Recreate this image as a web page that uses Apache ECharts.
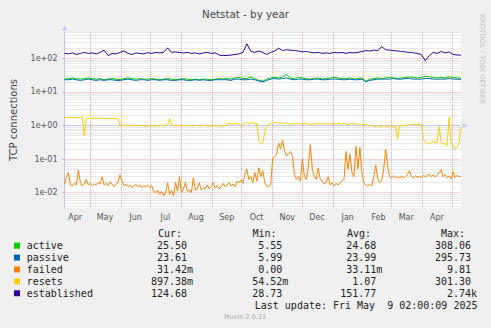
<!DOCTYPE html>
<html><head><meta charset="utf-8">
<script src="https://cdn.jsdelivr.net/npm/echarts@6/dist/echarts.min.js"></script>
<style>html,body{margin:0;padding:0;background:#f0f0f0}#c{width:491px;height:328px}</style>
</head><body><div id="c"></div>
<script>
// ---- text ----
const chartTitle = 'Netstat - by year';
const yAxisTitle = 'TCP connections';
const monthLabels = ['Apr','May','Jun','Jul','Aug','Sep','Oct','Nov','Dec','Jan','Feb','Mar','Apr'];
const yTickExponents = [-2, -1, 0, 1, 2];
const seriesNames = ['active','passive','failed','resets','established'];
const seriesColors = ['#00CC00','#0066B3','#FF8000','#FFCC00','#330099'];
const statHeaders = ['Cur:','Min:','Avg:','Max:'];
const statCur = ['25.50','23.61','31.42m','897.38m','124.68'];
const statMin = ['5.55','5.99','0.00','54.52m','28.73'];
const statAvg = ['24.68','23.99','33.11m','1.07','151.77'];
const statMax = ['308.06','295.73','9.81','301.30','2.74k'];
const lastUpdate = 'Last update: Fri May\u00a0 9 02:00:09 2025';
const versionText = 'Munin 2.0.33';
const watermark = 'RRDTOOL / TOBI OETIKER';

// ---- time frame (400 days shown) ----
const startMs = Date.UTC(2024, 3, 5, 6, 0);
const spanDays = 400;

// ---- values: 4-day samples ----
const active = [24,25,26,25,24,25,26,25,24,25, 23,24,25,24,23,25,26,25,24,25, 24,24,25,24,23,24,25,24,23,24,
  25,24,23,24,23,24,24,23,24,25, 24,25,24,26,27,25,25,28,25,22, 21,24,26,27,26,28,33,26,25,27,
  26,25,24,25,26,24,25,26,27,26, 25,25,26,24,25,26,21,24,25,26, 25,26,27,26,25,26,27,28,27,26,
  27,29,28,27,26,27,26,28,27,26, 25.5];
const passive = [23,23,24,23,22,23,24,23,22,23, 22,23,23,22,22,23,24,23,22,23, 23,22,23,23,22,23,23,22,22,23,
  23,22,22,23,22,23,22,22,23,23, 23,23,22,24,24,23,23,24,23,21, 20,22,24,25,24,25,26,24,23,24,
  24,23,23,24,24,23,23,24,24,24, 23,23,24,23,23,24,20,22,23,24, 24,24,24,25,24,24,25,25,24,24,
  24,25,25,24,24,24,24,25,24,24, 23.6];
const established = [140,135,145,130,140,150,140,145,135,150, 175,120,140,135,150,165,140,130,145,140,
  135,148,140,150,145,150,205,150,155,150, 145,150,140,145,135,145,150,140,145,125,
  120,122,125,130,135,150,270,160,150,165, 150,130,150,165,200,170,180,175,170,165,
  155,160,150,145,150,140,145,140,150,145, 150,140,150,145,150,160,170,165,175,170,
  220,180,175,170,165,160,155,150,145,140, 130,85,120,150,140,160,145,155,130,125, 125];
// ---- values: 2-day samples ----
const resets = [1.75,1.7,1.72,1.75,1.7,1.68,1.72,1.7,1.75,1.8,
  0.5,1.6,1.62,1.65,1.63,1.65,1.64,1.66,1.65,1.64,
  1.65,1.63,1.62,1.6,1.62,1.6,1.6,1.58,1.0,1.02,
  1.0,0.98,1.03,1.0,0.97,1.0,1.02,0.98,1.0,1.0,
  0.97,0.95,0.97,1.0,1.02,0.98,0.97,1.0,1.03,1.0,
  0.98,1.0,1.02,1.6,1.05,1.0,0.98,1.0,1.02,0.97,
  1.0,0.98,1.0,1.03,0.98,0.97,1.0,1.02,0.98,0.97,
  1.0,1.0,0.97,0.95,1.0,0.98,1.0,0.97,1.0,0.95,
  0.98,1.0,1.12,1.15,1.12,1.1,1.15,1.13,1.1,0.95,
  1.12,1.18,1.2,1.15,1.18,1.2,1.15,1.15,0.35,0.28,
  0.3,0.6,0.95,1.1,1.15,1.2,1.15,1.3,1.15,1.2,
  1.15,1.12,1.18,1.15,1.05,1.15,1.12,1.15,1.15,1.12,
  1.1,1.15,1.12,1.1,1.0,1.12,1.1,1.15,1.12,1.1,
  1.12,1.15,1.1,1.12,1.1,1.15,1.12,1.1,1.15,1.12,
  1.1,1.15,1.1,1.05,1.12,1.15,1.1,1.12,1.15,1.0,
  1.12,1.05,1.1,0.95,1.0,1.05,0.92,0.95,1.0,0.9,
  0.95,1.0,0.95,0.92,0.98,0.95,0.9,0.95,0.4,1.0,
  0.98,1.02,1.0,1.05,1.02,1.05,1.1,1.08,1.05,1.1,
  1.05,0.4,0.32,0.3,0.28,0.3,0.35,0.3,0.32,0.95,
  0.3,0.28,0.3,0.25,1.75,0.3,0.25,0.2,0.22,0.3,
  0.9];
const failed = [0.018,0.03,0.04,0.017,0.016,0.019,0.017,0.047,0.02,0.016,
  0.018,0.025,0.017,0.019,0.016,0.018,0.017,0.02,0.018,0.03,
  0.017,0.019,0.016,0.021,0.018,0.015,0.018,0.02,0.034,0.022,
  0.016,0.018,0.015,0.017,0.014,0.016,0.018,0.015,0.017,0.014,
  0.016,0.015,0.017,0.014,0.016,0.011,0.01,0.012,0.009,0.011,
  0.008,0.01,0.02,0.009,0.012,0.008,0.02,0.011,0.03,0.01,
  0.013,0.02,0.011,0.012,0.01,0.028,0.012,0.013,0.02,0.012,
  0.014,0.013,0.017,0.013,0.015,0.02,0.014,0.016,0.013,0.015,
  0.019,0.015,0.017,0.02,0.016,0.018,0.015,0.022,0.02,0.024,
  0.019,0.035,0.05,0.025,0.03,0.02,0.04,0.022,0.055,0.03,
  0.045,0.02,0.016,0.015,0.017,0.1,0.12,0.14,0.3,0.2,
  0.36,0.18,0.12,0.15,0.17,0.12,0.035,0.025,0.03,0.022,
  0.1,0.03,0.025,0.06,0.27,0.05,0.03,0.025,0.055,0.025,
  0.022,0.018,0.02,0.03,0.017,0.02,0.016,0.019,0.017,0.02,
  0.022,0.025,0.17,0.05,0.14,0.04,0.03,0.24,0.05,0.22,
  0.04,0.02,0.017,0.016,0.018,0.016,0.03,0.065,0.025,0.02,
  0.023,0.05,0.2,0.06,0.03,0.028,0.032,0.028,0.03,0.027,
  0.031,0.028,0.03,0.035,0.045,0.03,0.028,0.032,0.029,0.031,
  0.028,0.033,0.03,0.032,0.036,0.03,0.034,0.029,0.033,0.04,
  0.047,0.03,0.035,0.028,0.032,0.026,0.042,0.028,0.033,0.03,
  0.031];

// ---- derived helpers ----
const DAY = 86400000;
const dayOf = (y, m, d) => (Date.UTC(y, m, d) - startMs) / DAY;
const monthStarts = [], labelDays = [];
for (let k = 0; k < 13; k++) {
  const y = 2024 + Math.floor((3 + k) / 12), m = (3 + k) % 12;
  labelDays.push(dayOf(y, m, 16));
  const y2 = 2024 + Math.floor((4 + k) / 12), m2 = (4 + k) % 12;
  monthStarts.push(dayOf(y2, m2, 1));
}
const yMin = -2.455, yMax = 2.783;
const majorVals = yTickExponents.slice();
const minorVals = [];
for (let n = -3; n <= 2; n++) for (let k = 2; k <= 9; k++) {
  const v = n + Math.log10(k);
  if (v > yMin && v < yMax) minorVals.push(v);
}
const toPts = (arr, step) => arr.map((v, i) => [i * step, Math.log10(v)]);
const seriesData = {active: toPts(active, 4), passive: toPts(passive, 4), failed: toPts(failed, 2),
  resets: toPts(resets, 2), established: toPts(established, 4)};
const expLabel = v => { const n = Math.round(v); return '1e' + (n < 0 ? '-' : '+') + String(Math.abs(n)).padStart(2, '0'); };
const splitUnit = s => { const m = s.match(/^([\d.]+)([a-zA-Z]?)$/); return [m[1], m[2] || '']; };

const MONO = 'DejaVu Sans Mono';
const SANS = 'DejaVu Sans';
const FONT_MONO = '10px "DejaVu Sans Mono"';
const pink = '#f2a4a4';
const axisBlue = '#c4c4f2';
const textCol = '#222';

// legend statistics table
const rowY0 = 245.7, rowStep = 11.9;
const colRight = [187, 282.3, 376.3, 471];
const headerX = [158, 252.5, 347, 441];
const graphics = [];
statHeaders.forEach((h, c) => graphics.push({type: 'text', x: headerX[c], y: 233,
  style: {text: h, font: FONT_MONO, fill: textCol, textVerticalAlign: 'middle', verticalAlign: 'middle'}}));
[statCur, statMin, statAvg, statMax].forEach((col, c) => {
  col.forEach((s, r) => {
    const [num, suf] = splitUnit(s);
    const y = rowY0 + r * rowStep;
    graphics.push({type: 'text', x: colRight[c], y: y, style: {text: num, font: FONT_MONO, fill: textCol,
      textAlign: 'right', align: 'right', textVerticalAlign: 'middle', verticalAlign: 'middle'}});
    if (suf) graphics.push({type: 'text', x: colRight[c], y: y, style: {text: suf, font: FONT_MONO, fill: textCol,
      textAlign: 'left', align: 'left', textVerticalAlign: 'middle', verticalAlign: 'middle'}});
  });
});
graphics.push(
  {type: 'text', x: 477.5, y: 305.7, style: {text: lastUpdate, font: FONT_MONO, fill: textCol, textAlign: 'right', align: 'right', textVerticalAlign: 'middle', verticalAlign: 'middle'}},
  {type: 'text', x: 245, y: 316.5, style: {text: versionText, font: '6.4px "DejaVu Sans"', fill: '#aaaaaa', textAlign: 'center', align: 'center', textVerticalAlign: 'middle', verticalAlign: 'middle'}},
  {type: 'text', x: 482, y: 59, rotation: -Math.PI / 2, style: {text: watermark, font: '7px "DejaVu Sans"', fill: '#c4c4c4', textAlign: 'center', align: 'center', textVerticalAlign: 'middle', verticalAlign: 'middle'}}
);

const chart = echarts.init(document.getElementById('c'), null, {renderer: 'svg'});
chart.setOption({
  animation: false,
  backgroundColor: '#f0f0f0',
  title: {text: chartTitle, left: 'center', top: 8, padding: 0,
    textStyle: {fontFamily: SANS, fontSize: 10.3, fontWeight: 'normal', color: '#444', lineHeight: 12}},
  grid: {left: 61, right: 30, top: 32, bottom: 120, show: true, backgroundColor: '#ffffff', borderWidth: 0},
  legend: {
    orient: 'vertical', left: 14, top: rowY0 - 6, padding: 0, itemGap: 0, itemWidth: 6, itemHeight: 6, icon: 'rect',
    selectedMode: false, data: seriesNames,
    textStyle: {fontFamily: MONO, fontSize: 10, color: textCol, lineHeight: rowStep, padding: [0, 0, 0, 1.7]}
  },
  xAxis: {
    type: 'value', min: 0, max: spanDays,
    axisLine: {show: true, lineStyle: {color: axisBlue, width: 1}, symbol: ['none', 'triangle'], symbolSize: [5, 5], symbolOffset: [0, 4]},
    axisTick: {show: true, customValues: monthStarts, length: 3, lineStyle: {color: pink, type: [1, 1]}},
    splitLine: {show: true, lineStyle: {color: pink, type: [1, 1], width: 1}},
    axisLabel: {customValues: labelDays, margin: 5, color: '#555', fontSize: 8, fontFamily: SANS,
      formatter: function (v) {
        let best = 0, bd = 1e9;
        labelDays.forEach((d, i) => { const dd = Math.abs(d - v); if (dd < bd) { bd = dd; best = i; } });
        return monthLabels[best];
      }}
  },
  yAxis: [
    {type: 'value', min: yMin, max: yMax, position: 'left',
      axisLine: {show: false}, axisLabel: {show: false},
      axisTick: {show: false, customValues: minorVals},
      splitLine: {show: true, lineStyle: {color: '#d2d2d2', type: [1, 1], width: 1}}},
    {type: 'value', min: yMin, max: yMax, position: 'left', offset: 0,
      name: yAxisTitle, nameLocation: 'middle', nameGap: 46.5,
      nameTextStyle: {fontFamily: SANS, fontSize: 10, color: '#444'},
      axisLine: {show: true, lineStyle: {color: axisBlue, width: 1}, symbol: ['none', 'triangle'], symbolSize: [5, 5], symbolOffset: [0, 4]},
      axisTick: {show: true, customValues: majorVals, length: 2, lineStyle: {color: pink}},
      axisLabel: {customValues: majorVals, margin: 7, color: '#555', fontSize: 8, fontFamily: SANS, formatter: expLabel},
      splitLine: {show: true, lineStyle: {color: pink, type: [1, 1], width: 1}}}
  ],
  graphic: graphics,
  series: seriesNames.map((name, i) => ({
    name: name, type: 'line', xAxisIndex: 0, yAxisIndex: 1, data: seriesData[name],
    showSymbol: false, symbol: 'none', color: seriesColors[i],
    lineStyle: {width: 1, color: seriesColors[i]}, emphasis: {disabled: true}, silent: true
  }))
});
</script></body></html>
